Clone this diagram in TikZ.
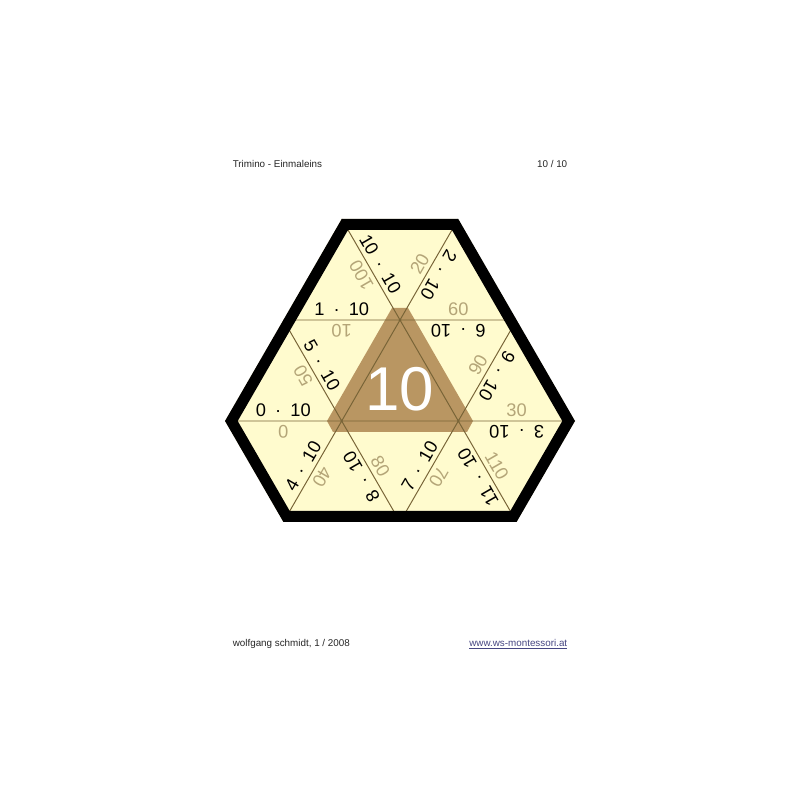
\documentclass[tikz,border=0pt]{standalone}
\usepackage{fontspec}
\setmainfont{Liberation Sans}

\definecolor{board}{RGB}{255,251,206}
\definecolor{centre}{RGB}{185,150,98}
\definecolor{result}{RGB}{180,165,120}
\definecolor{seam}{RGB}{120,100,55}
\definecolor{weblink}{RGB}{70,70,130}

\newcommand{\mal}[1]{#1\hspace{.5em}·\hspace{.5em}10}

\tikzset{
  task/.style={font=\fontsize{13}{15}\selectfont, text=black, inner sep=3pt,
    midway, sloped, above, allow upside down},
  prod/.style={task, text=result},
  small/.style={font=\fontsize{7}{8}\selectfont, text=black!85, inner sep=0pt}
}

\begin{document}
\begin{tikzpicture}[x=0.25mm, y=0.25mm]
\useasboundingbox[fill=white] (0,0) rectangle (800,800);
% side 116.6, row height 101
\coordinate (T1) at (341.7,581);
\coordinate (T2) at (458.3,581);
\coordinate (L1) at (283.4,480);
\coordinate (M1) at (400,480);
\coordinate (R1) at (516.6,480);
\coordinate (L2) at (225,379);
\coordinate (M2l) at (341.7,379);
\coordinate (M2r) at (458.3,379);
\coordinate (R2) at (575,379);
\coordinate (B1) at (283.4,278);
\coordinate (Bm) at (400,278);
\coordinate (B2) at (516.6,278);

\begin{scope}
\clip (T1)--(T2)--(R2)--(B2)--(B1)--(L2)--cycle;
\fill[board] (T1)--(T2)--(R2)--(B2)--(B1)--(L2)--cycle;
\fill[centre] (392,492)--(408,492)--(473,379)--(467,368)--(333,368)--(327,379)--cycle;
\draw[seam, line width=0.7pt] (L1)--(R1) (L2)--(R2) (T1)--(B2) (L1)--(Bm) (T2)--(B1) (R1)--(Bm);
\draw[line width=5.5mm, line join=miter] (T1)--(T2)--(R2)--(B2)--(B1)--(L2)--cycle;
\end{scope}

\node[font=\fontsize{44}{44}\selectfont, text=white, inner sep=0pt] (ten) at (400,410.5) {10};

% upper row line
\path (L1)--(M1) node[task] (a1) {\mal{1}};
\path (M1)--(L1) node[prod] (p1) {10};
\path (M1)--(R1) node[prod] (p6) {60};
\path (R1)--(M1) node[task] (a6) {\mal{6}};
% lower row line
\path (L2)--(M2l) node[task] (a0) {\mal{0}};
\path (M2l)--(L2) node[prod] (p0) {0};
\path (M2r)--(R2) node[prod] (p3) {30};
\path (R2)--(M2r) node[task] (a3) {\mal{3}};
% falling lines
\path (T1)--(M1) node[task] (a10) {\mal{10}};
\path (M1)--(T1) node[prod] (p10) {100};
\path (B2)--(M2r) node[task] (a11) {\mal{11}};
\path (M2r)--(B2) node[prod] (p11) {110};
\path (L1)--(M2l) node[task] (a5) {\mal{5}};
\path (M2l)--(L1) node[prod] (p5) {50};
\path (Bm)--(M2l) node[task] (a8) {\mal{8}};
\path (M2l)--(Bm) node[prod] (p8) {80};
% rising lines
\path (T2)--(M1) node[task] (a2) {\mal{2}};
\path (M1)--(T2) node[prod] (p2) {20};
\path (B1)--(M2l) node[task] (a4) {\mal{4}};
\path (M2l)--(B1) node[prod] (p4) {40};
\path (R1)--(M2r) node[task] (a9) {\mal{9}};
\path (M2r)--(R1) node[prod] (p9) {90};
\path (Bm)--(M2r) node[task] (a7) {\mal{7}};
\path (M2r)--(Bm) node[prod] (p7) {70};

% page head and foot
\node[small, anchor=base west] (title) at (232.5,632.7) {Trimino - Einmaleins};
\node[small, anchor=base east] (page) at (567.5,632.7) {10 / 10};
\node[small, anchor=base west] (author) at (232.5,153.5) {wolfgang schmidt, 1 / 2008};
\node[small, anchor=base east, text=weblink] (web) at (567.5,153.5) {\underline{www.ws-montessori.at}};
\end{tikzpicture}
\end{document}
